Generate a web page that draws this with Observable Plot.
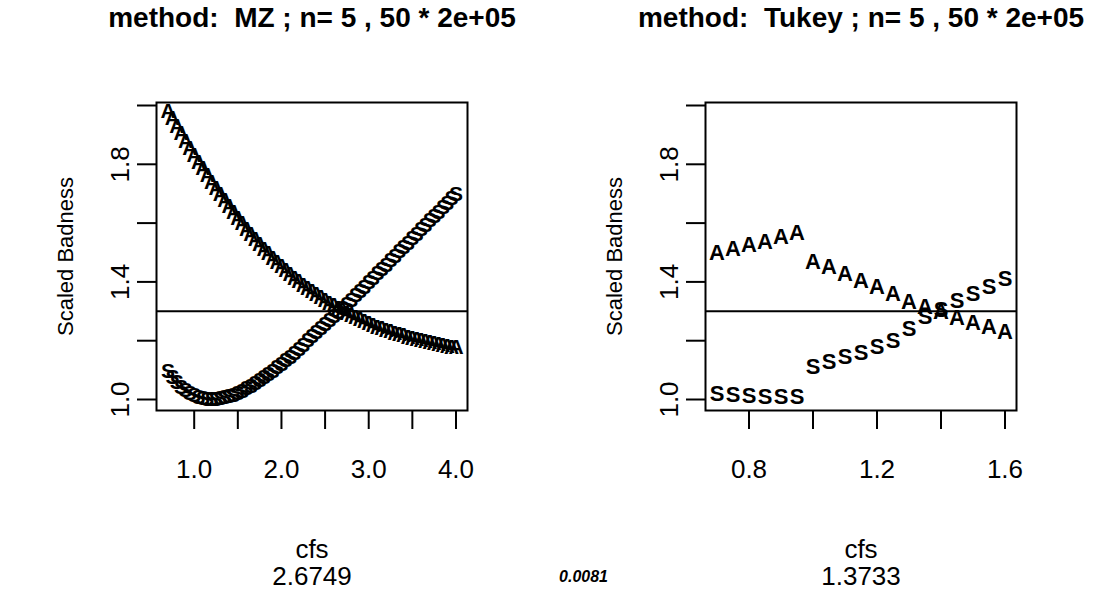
<!DOCTYPE html>
<html>
<head>
<meta charset="utf-8">
<script src="https://cdn.jsdelivr.net/npm/d3@7"></script>
<script src="https://cdn.jsdelivr.net/npm/@observablehq/plot@0.6"></script>
<style>
  html, body { margin: 0; padding: 0; background: white; }
  #wrap { display: flex; width: 1098px; height: 598px; }
  svg { display: block; }
</style>
</head>
<body>
<div id="wrap"></div>
<script>
// ---- Left panel: method MZ ----
const mzTitle = "method:  MZ ; n= 5 , 50 * 2e+05";
const mzCfs = [0.70,0.75,0.80,0.85,0.90,0.95,1.00,1.05,1.10,1.15,1.20,1.25,1.30,1.35,1.40,1.45,1.50,1.55,1.60,1.65,1.70,1.75,1.80,1.85,1.90,1.95,2.00,2.05,2.10,2.15,2.20,2.25,2.30,2.35,2.40,2.45,2.50,2.55,2.60,2.65,2.70,2.75,2.80,2.85,2.90,2.95,3.00,3.05,3.10,3.15,3.20,3.25,3.30,3.35,3.40,3.45,3.50,3.55,3.60,3.65,3.70,3.75,3.80,3.85,3.90,3.95,4.00];
const mzA = [1.980,1.955,1.930,1.905,1.880,1.856,1.832,1.808,1.785,1.762,1.740,1.718,1.697,1.676,1.656,1.636,1.617,1.598,1.580,1.562,1.545,1.528,1.512,1.497,1.482,1.467,1.453,1.440,1.427,1.414,1.402,1.390,1.379,1.368,1.357,1.347,1.337,1.328,1.319,1.310,1.302,1.294,1.286,1.279,1.272,1.265,1.259,1.253,1.247,1.241,1.236,1.231,1.226,1.221,1.217,1.213,1.209,1.205,1.201,1.197,1.194,1.191,1.188,1.185,1.182,1.179,1.176];
const mzS = [1.095,1.075,1.058,1.043,1.031,1.021,1.013,1.007,1.003,1.001,1.000,1.001,1.003,1.006,1.010,1.015,1.022,1.029,1.037,1.045,1.054,1.064,1.074,1.085,1.096,1.108,1.120,1.132,1.145,1.158,1.172,1.186,1.200,1.2135,1.227,1.241,1.255,1.269,1.283,1.297,1.311,1.325,1.339,1.353,1.368,1.383,1.398,1.413,1.428,1.443,1.458,1.473,1.488,1.503,1.518,1.533,1.548,1.563,1.578,1.593,1.608,1.623,1.638,1.653,1.668,1.683,1.698];
const mzXTicks = [1.0,1.5,2.0,2.5,3.0,3.5,4.0];
const mzXLabels = [1.0,2.0,3.0,4.0];
const mzBest = "2.6749";

// ---- Right panel: method Tukey ----
const tkTitle = "method:  Tukey ; n= 5 , 50 * 2e+05";
const tkCfs = [0.70,0.75,0.80,0.85,0.90,0.95,1.00,1.05,1.10,1.15,1.20,1.25,1.30,1.35,1.40,1.45,1.50,1.55,1.60];
const tkA = [1.500,1.512,1.524,1.536,1.552,1.568,1.467,1.450,1.428,1.402,1.382,1.360,1.333,1.315,1.297,1.278,1.262,1.247,1.230];
const tkS = [1.020,1.014,1.011,1.010,1.010,1.010,1.112,1.127,1.144,1.160,1.178,1.200,1.240,1.280,1.305,1.335,1.360,1.382,1.410];
const tkXTicks = [0.8,1.0,1.2,1.4,1.6];
const tkXLabels = [0.8,1.2,1.6];
const tkBest = "1.3733";

// ---- shared ----
const yTicks = [1.0,1.2,1.4,1.6,1.8,2.0];
const yLabels = [1.0,1.4,1.8];
const refLine = [1.3];
const yLabel = "Scaled Badness";
const xLabel = "cfs";
const midNote = "0.0081";

const FONT = "'Liberation Sans', Arial, Helvetica, sans-serif";

function panel(o) {
  const aData = o.cfs.map((c, i) => ({cfs: c, v: o.a[i]}));
  const sData = o.cfs.map((c, i) => ({cfs: c, v: o.s[i]}));
  const mid = {lineAnchor: "middle", textAnchor: "middle"};
  const marks = [
    Plot.frame({stroke: "black", strokeWidth: 2}),
    Plot.ruleY(refLine, {stroke: "black", strokeWidth: 2}),
    Plot.text(aData, {x: "cfs", y: "v", text: () => "A", fontSize: o.sym, fontWeight: "bold", fill: "black"}),
    Plot.text(sData, {x: "cfs", y: "v", text: () => "S", fontSize: o.sym, fontWeight: "bold", fill: "black"}),
    Plot.axisX({ticks: o.xTicks, tickSize: 19, tickFormat: () => "", label: null, strokeWidth: 2}),
    Plot.text(o.xLabels, {x: d => d, frameAnchor: "bottom", dy: 59, text: d => d.toFixed(1), fontSize: 26, ...mid}),
    Plot.axisY({ticks: yTicks, tickSize: 19, tickFormat: () => "", label: null, strokeWidth: 2}),
    Plot.text(yLabels, {y: d => d, frameAnchor: "left", dx: -36, rotate: -90, text: d => d.toFixed(1), fontSize: 26, ...mid}),
    Plot.text([o.title], {frameAnchor: "top", dy: -84, fontWeight: "bold", fontSize: 28, ...mid}),
    Plot.text([yLabel], {frameAnchor: "left", dx: -91, rotate: -90, fontSize: 22, ...mid}),
    Plot.text([xLabel], {frameAnchor: "bottom", dy: 139, fontSize: 26, ...mid}),
    Plot.text([o.best], {frameAnchor: "bottom", dy: 166, fontSize: 26, ...mid})
  ];
  if (o.note) marks.push(Plot.text([o.note], {frameAnchor: "bottom-left", dx: -122, dy: 166, fontSize: 16, fontWeight: "bold", fontStyle: "italic", ...mid}));
  return Plot.plot({
    width: 549, height: 598,
    marginLeft: 156, marginRight: 82, marginTop: 102, marginBottom: 188,
    x: {domain: o.xDomain},
    y: {domain: [0.9626, 2.0102]},
    style: {fontFamily: FONT, background: "white", color: "black", overflow: "visible"},
    marks
  });
}

const wrap = document.getElementById("wrap");
wrap.appendChild(panel({title: mzTitle, cfs: mzCfs, a: mzA, s: mzS, xDomain: [0.568, 4.132], xTicks: mzXTicks, xLabels: mzXLabels, best: mzBest, sym: 21}));
wrap.appendChild(panel({title: tkTitle, cfs: tkCfs, a: tkA, s: tkS, xDomain: [0.664, 1.636], xTicks: tkXTicks, xLabels: tkXLabels, best: tkBest, sym: 22, note: midNote}));
</script>
</body>
</html>
